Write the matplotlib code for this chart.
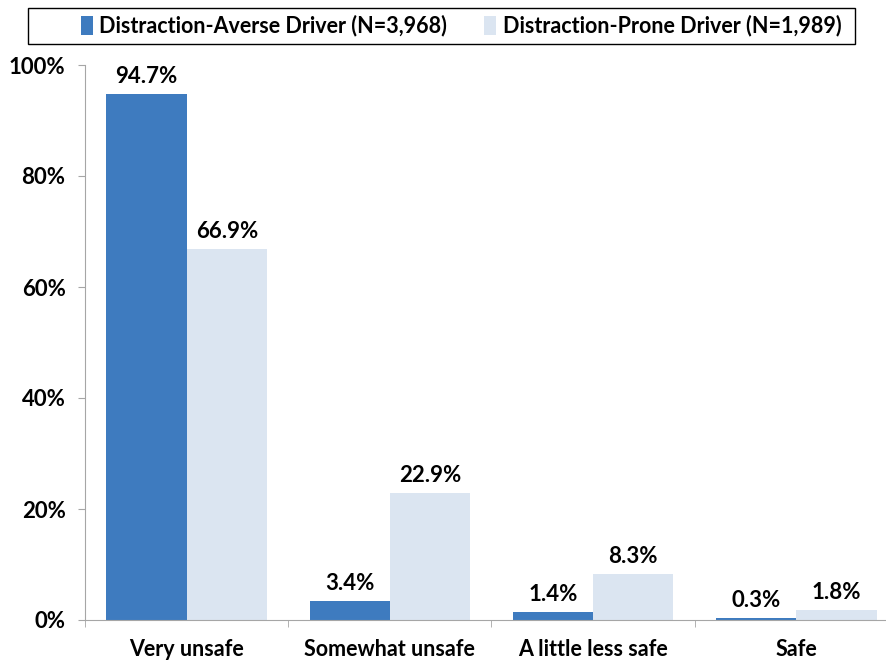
import matplotlib
matplotlib.use("Agg")
import matplotlib.pyplot as plt
from matplotlib.patches import Rectangle
import numpy as np

# datos del grafico
categorias = ["Very unsafe", "Somewhat unsafe", "A little less safe", "Safe"]
averse = [94.7, 3.4, 1.4, 0.3]
prone = [66.9, 22.9, 8.3, 1.8]
serie_nombres = ["Distraction-Averse Driver (N=3,968)", "Distraction-Prone Driver (N=1,989)"]
yticks = [0, 20, 40, 60, 80, 100]

plt.rcParams['font.family'] = ['Lato', 'DejaVu Sans']
plt.rcParams['font.weight'] = 'bold'

color_oscuro = '#3E7BBF'
color_claro = '#DBE5F1'
gris = '#A6A6A6'

fig = plt.figure(figsize=(8.87, 6.64), dpi=100)
ax = fig.add_axes([85/887, 1-620/664, (898-85)/887, (620-65)/664])

x = np.arange(len(categorias))
w = 0.395
b1 = ax.bar(x - w/2, averse, w, color=color_oscuro, label=serie_nombres[0])
b2 = ax.bar(x + w/2, prone, w, color=color_claro, label=serie_nombres[1])

for barras, vals in [(b1, averse), (b2, prone)]:
    for r, v in zip(barras, vals):
        ax.annotate(f"{v:.1f}%", (r.get_x() + r.get_width()/2, v),
                    xytext=(0, 5), textcoords='offset points',
                    ha='center', va='bottom', fontsize=16, fontweight='bold')

ax.set_xlim(-0.5, 3.5)
ax.set_ylim(0, 100)
ax.set_yticks(yticks)
ax.set_yticklabels([f"{t}%" for t in yticks], fontsize=16, fontweight='bold')
ax.set_xticks(x)
ax.set_xticklabels(categorias, fontsize=15.5, fontweight='bold')
ax.tick_params(axis='x', length=0, pad=14)
ax.tick_params(axis='y', length=5, color=gris, pad=9)
# marcas entre categorias
ax.set_xticks(np.arange(-0.5, 4, 1), minor=True)
ax.tick_params(axis='x', which='minor', length=5, color=gris)

for s in ['top', 'right']:
    ax.spines[s].set_visible(False)
ax.spines['left'].set_color(gris)
ax.spines['bottom'].set_color(gris)

# leyenda con marco aparte (como en excel)
leg = fig.legend(loc='center', bbox_to_anchor=(461/887, 1-26/664), ncol=2,
                 fontsize=15.5, frameon=False,
                 handlelength=0.58, handleheight=0.93, handletextpad=0.3,
                 columnspacing=1.7, borderpad=0.0)
fig.add_artist(Rectangle((28/887, 1-44/664), (855-28)/887, 36/664,
                         transform=fig.transFigure, fill=False,
                         edgecolor='black', linewidth=1.0))

fig.savefig("out.png", dpi=100)
